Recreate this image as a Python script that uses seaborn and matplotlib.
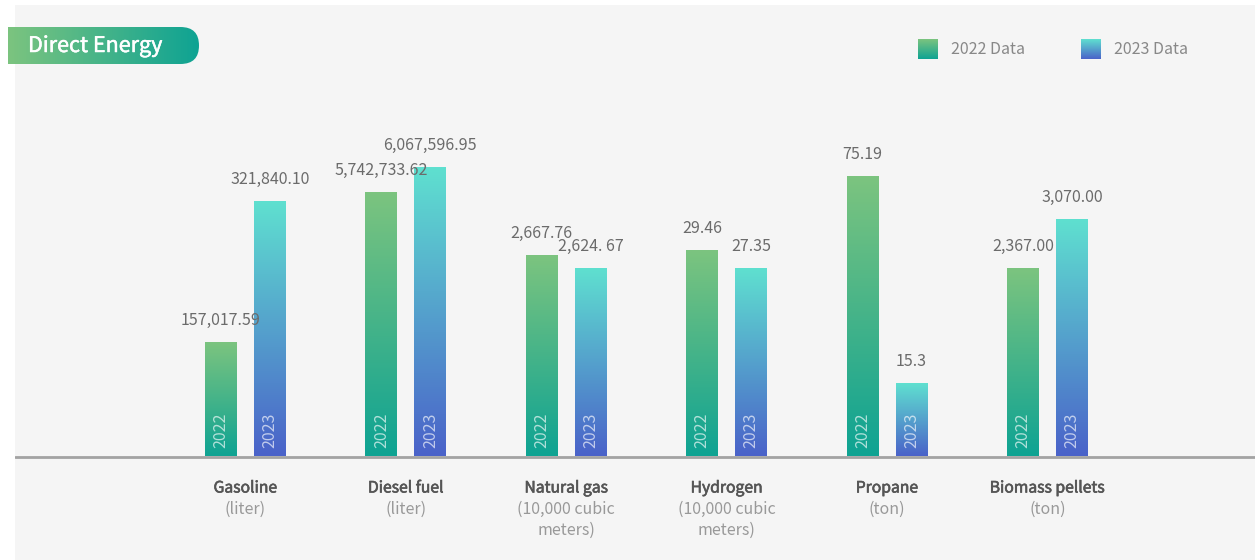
import matplotlib
matplotlib.use('Agg')
import matplotlib.pyplot as plt
import matplotlib.patheffects as pe
import numpy as np
import pandas as pd
import seaborn as sns
from matplotlib.colors import LinearSegmentedColormap
from matplotlib.patches import FancyBboxPatch

# chart data
categories = ["Gasoline", "Diesel fuel", "Natural gas", "Hydrogen", "Propane", "Biomass pellets"]
units = [["(liter)"], ["(liter)"], ["(10,000 cubic", "meters)"], ["(10,000 cubic", "meters)"],
         ["(ton)"], ["(ton)"]]
years = ["2022", "2023"]
labels_2022 = ["157,017.59", "5,742,733.62", "2,667.76", "29.46", "75.19", "2,367.00"]
labels_2023 = ["321,840.10", "6,067,596.95", "2,624. 67", "27.35", "15.3", "3,070.00"]
# bar heights as drawn (each category has its own scale in the original)
heights_2022 = [114, 264, 201, 206, 280, 188]
heights_2023 = [255, 289, 188, 188, 73, 237]

W, H = 1255, 560
BG = "#f5f5f5"
FONT = ["Noto Sans CJK KR", "DejaVu Sans"]

sns.set_theme(style="white")
plt.rcParams["font.family"] = FONT

cmaps = {
    "2022": LinearSegmentedColormap.from_list("c22", ["#0ea393", "#7cc47f"]),
    "2023": LinearSegmentedColormap.from_list("c23", ["#4a62c9", "#5fe0d0"]),
}

df = pd.DataFrame({
    "category": categories * 2,
    "year": ["2022"] * 6 + ["2023"] * 6,
    "height": heights_2022 + heights_2023,
})

fig = plt.figure(figsize=(W / 100, H / 100), dpi=100, facecolor="white")


def px(x, y, w, h):
    # pixel box (top-left origin) -> figure fraction rect
    return [x / W, 1 - (y + h) / H, w / W, h / H]


ax = fig.add_axes(px(15, 5, 1240, 555))
ax.set_facecolor(BG)

sns.barplot(data=df, x="category", y="height", hue="year", hue_order=years,
            order=categories, width=0.611, gap=0.347, legend=False, ax=ax)

grad = np.linspace(0, 1, 256).reshape(-1, 1)
label_sets = {"2022": labels_2022, "2023": labels_2023}
for year, container in zip(years, ax.containers):
    for i, bar in enumerate(container.patches):
        x0, w, h = bar.get_x(), bar.get_width(), bar.get_height()
        bar.set_visible(False)
        ax.imshow(grad, cmap=cmaps[year], origin="lower", aspect="auto",
                  extent=[x0, x0 + w, 0, h], zorder=2)
        xc = x0 + w / 2
        ax.text(xc, h + 22, label_sets[year][i], ha="center", va="center",
                fontsize=11.5, color="#6b6b6b", zorder=3)
        ax.text(xc, 26.5, year, ha="center", va="center", rotation=90,
                fontsize=11.5, color="white", alpha=0.65, zorder=3)

# x: group centre 0 at 245.5px, 160.4px per category
ax.set_xlim(-(245.5 - 15) / 160.4, 5 + (1255 - 1047.5) / 160.4)
ax.set_ylim(-(560 - 456.5), 456.5 - 5)
ax.axhline(0, color="#a3a3a3", lw=2, zorder=4)
ax.set_xticks([])
ax.set_yticks([])
ax.set_xlabel("")
ax.set_ylabel("")
for s in ax.spines.values():
    s.set_visible(False)

semibold = [pe.withStroke(linewidth=0.45, foreground="#555555")]
for i, (name, unit) in enumerate(zip(categories, units)):
    ax.text(i, -31.5, name, ha="center", va="center", fontsize=11.3,
            color="#555555", path_effects=semibold)
    for j, line in enumerate(unit):
        ax.text(i, -52.5 - 21 * j, line, ha="center", va="center",
                fontsize=11.5, color="#999999")

# title badge
tax = fig.add_axes(px(8, 27, 191, 37))
tax.set_xlim(0, 191)
tax.set_ylim(0, 37)
tax.axis("off")
badge_cmap = LinearSegmentedColormap.from_list("badge", ["#7cc47f", "#0ea393"])
img = tax.imshow(np.linspace(0, 1, 256).reshape(1, -1), cmap=badge_cmap, aspect="auto",
                 extent=[0, 191, 0, 37])
clip = FancyBboxPatch((-40, 0), 231, 37, boxstyle="round,pad=0,rounding_size=18.5",
                      transform=tax.transData, facecolor="none", edgecolor="none")
tax.add_patch(clip)
img.set_clip_path(clip)
tax.text(20, 18, "Direct Energy", ha="left", va="center", fontsize=15.5,
         color="white", path_effects=[pe.withStroke(linewidth=0.35, foreground="white")])

# legend
for year, lx in zip(years, [918, 1081]):
    lax = fig.add_axes(px(lx, 39, 20, 20))
    lax.imshow(grad, cmap=cmaps[year], origin="lower", aspect="auto")
    lax.axis("off")
    fig.text((lx + 33) / W, 1 - 49 / H, f"{year} Data", ha="left", va="center",
             fontsize=11.5, color="#888888")

fig.savefig("out.png", dpi=100, facecolor="white")
